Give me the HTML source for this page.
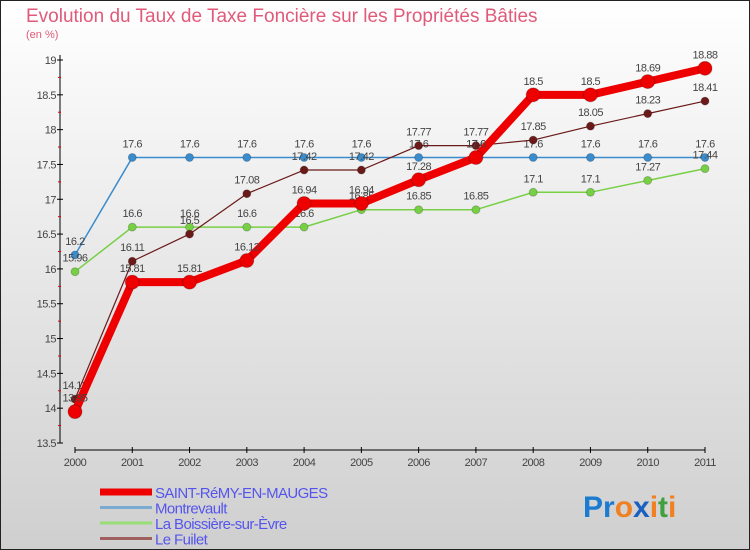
<!DOCTYPE html>
<html><head><meta charset="utf-8"><style>
body{margin:0}
#c{position:relative;width:750px;height:550px;font-family:"Liberation Sans",sans-serif;overflow:hidden}
</style></head><body>
<div id="c">
<svg id="s" width="750" height="550" xmlns="http://www.w3.org/2000/svg">
<defs><linearGradient id="bg" x1="0" y1="0" x2="0" y2="1"><stop offset="0" stop-color="#ffffff"/><stop offset="1" stop-color="#cfcfcf"/></linearGradient></defs>
<rect x="0.5" y="0.5" width="749" height="549" fill="url(#bg)" stroke="#222"/>
<text x="26" y="22" font-size="19" fill="#e05a7a">Evolution du Taux de Taxe Foncière sur les Propriétés Bâties</text>
<text x="26" y="38" font-size="11" fill="#e05a7a">(en %)</text>
<g id="axes"></g><g id="series"></g><g id="legend"></g>
<text x="583" y="517" font-size="30" font-weight="bold"><tspan fill="#1a7bd0">Pr</tspan><tspan fill="#f08020">o</tspan><tspan fill="#1a60c0">x</tspan><tspan fill="#f08020">i</tspan><tspan fill="#40a040">t</tspan><tspan fill="#f08020">i</tspan></text>
</svg>
</div>
<script>
const years=["2000","2001","2002","2003","2004","2005","2006","2007","2008","2009","2010","2011"];
const saintRemy=[13.95,15.81,15.81,16.12,16.94,16.94,17.28,17.6,18.5,18.5,18.69,18.88];
const montrevault=[16.2,17.6,17.6,17.6,17.6,17.6,17.6,17.6,17.6,17.6,17.6,17.6];
const boissiere=[15.96,16.6,16.6,16.6,16.6,16.85,16.85,16.85,17.1,17.1,17.27,17.44];
const fuilet=[14.13,16.11,16.5,17.08,17.42,17.42,17.77,17.77,17.85,18.05,18.23,18.41];
const yTicks=[13.5,14,14.5,15,15.5,16,16.5,17,17.5,18,18.5,19];
const seriesNames=["SAINT-RéMY-EN-MAUGES","Montrevault","La Boissière-sur-Èvre","Le Fuilet"];
const NS="http://www.w3.org/2000/svg";
const X=i=>75+i*(705-75)/11;
const Y=v=>443-(v-13.5)*(443-60)/5.5;
function mk(p,t,a){const e=document.createElementNS(NS,t);for(const k in a)e.setAttribute(k,a[k]);p.appendChild(e);return e;}
const ax=document.getElementById('axes');
let l=mk(ax,'line',{x1:60,y1:55,x2:60,y2:443,stroke:'#000'});


l=mk(ax,'line',{x1:75,y1:450,x2:705,y2:450,stroke:'#000'});


yTicks.forEach((v,i)=>{const y=Y(v);
 mk(ax,'line',{x1:57,y1:y,x2:63,y2:y,stroke:'#000'});
 if(i<yTicks.length-1)mk(ax,'line',{x1:58,y1:Y(v+0.25),x2:61,y2:Y(v+0.25),stroke:'#d00'});
 const t=mk(ax,'text',{x:56,y:y+4,'font-size':11,'text-anchor':'end',fill:'#444','letter-spacing':'-0.5'});t.textContent=String(v);
 
 });
years.forEach((yr,i)=>{const x=X(i);
 mk(ax,'line',{x1:x,y1:447,x2:x,y2:453,stroke:'#000'});
 const t=mk(ax,'text',{x:x,y:466,'font-size':11,'text-anchor':'middle',fill:'#444','letter-spacing':'-0.5'});t.textContent=yr;
 
 });
const sg=document.getElementById('series');
function draw(vals,color,w,r,name){
 const g=mk(sg,'g',{});
 
 
 mk(g,'polyline',{points:vals.map((v,i)=>X(i)+','+Y(v)).join(' '),fill:'none',stroke:color,'stroke-width':w,'stroke-linejoin':'round'});
 vals.forEach((v,i)=>{const c=mk(g,'circle',{cx:X(i),cy:Y(v),r:r,fill:color,stroke:'rgba(0,0,0,0.2)'});
  
  
  const t=mk(g,'text',{x:X(i),y:Y(v)-10,'font-size':11,'text-anchor':'middle',fill:'#444','letter-spacing':'-0.5'});t.textContent=String(v);
  
  });
}
draw(montrevault,'#3a8ccc',1.5,4,'series-montrevault');
draw(boissiere,'#77d044',1.5,4,'series-la-boissiere');
draw(fuilet,'#6b1a1a',1.2,4,'series-le-fuilet');
draw(saintRemy,'#ee0000',8,7,'series-saint-remy');
const lg=document.getElementById('legend');
const lc=['#ee0000','#7aaad0','#99dd77','#a06060'];const lw=[7,3,3,3];
seriesNames.forEach((n,i)=>{const y=492+i*15.5;
 const g=mk(lg,'g',{});
 
 
 mk(g,'line',{x1:100,y1:y,x2:152,y2:y,stroke:lc[i],'stroke-width':lw[i]});
 const t=mk(g,'text',{x:155,y:y+6,'font-size':15,fill:'#5555ee','letter-spacing':'-0.6'});t.textContent=n;});
</script>
</body></html>
